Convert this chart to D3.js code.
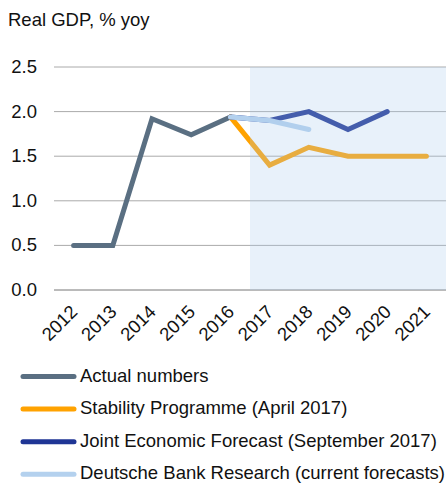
<!DOCTYPE html>
<html>
<head>
<meta charset="utf-8">
<script src="https://cdn.jsdelivr.net/npm/d3@7"></script>
<style>
  html, body { margin: 0; padding: 0; background: #fff; }
  svg { display: block; font-family: "Liberation Sans", Arial, sans-serif; }
</style>
</head>
<body>
<svg id="chart" width="446" height="483"></svg>
<script>
// Real GDP growth, % year on year
const years = ["2012", "2013", "2014", "2015", "2016", "2017", "2018", "2019", "2020", "2021"];
const yTicks = [0, 0.5, 1.0, 1.5, 2.0, 2.5];

const actual      = [["2012", 0.5], ["2013", 0.5], ["2014", 1.92], ["2015", 1.74], ["2016", 1.94]];
const stability   = [["2016", 1.94], ["2017", 1.4], ["2018", 1.6], ["2019", 1.5], ["2020", 1.5], ["2021", 1.5]];
const jointFcst   = [["2016", 1.94], ["2017", 1.9], ["2018", 2.0], ["2019", 1.8], ["2020", 2.0]];
const dbResearch  = [["2016", 1.94], ["2017", 1.9], ["2018", 1.8]];

const seriesNames = [
  "Actual numbers",
  "Stability Programme (April 2017)",
  "Joint Economic Forecast (September 2017)",
  "Deutsche Bank Research (current forecasts)"
];
const seriesColors = ["#5a6f82", "#ffa200", "#1f3595", "#b4d1ee"];
const seriesData = [actual, stability, jointFcst, dbResearch];

const svg = d3.select("#chart");
const plot = { left: 54, right: 446, top: 67, bottom: 290 };
const fontSize = 18.5;

const x = d3.scalePoint().domain(years).range([plot.left, plot.right]).padding(0.5);
const y = d3.scaleLinear().domain([0, 2.5]).range([plot.bottom, plot.top]);

// title
svg.append("text")
  .attr("x", 8).attr("y", 26)
  .attr("font-size", fontSize).attr("fill", "#111")
  .text("Real GDP, % yoy");

// gridlines
svg.append("g").selectAll("line").data(yTicks).join("line")
  .attr("x1", plot.left).attr("x2", plot.right)
  .attr("y1", d => y(d)).attr("y2", d => y(d))
  .attr("stroke", d => d === 0 ? "#777" : "#aaa")
  .attr("stroke-width", 1);

// y tick labels
svg.append("g").selectAll("text").data(yTicks).join("text")
  .attr("x", 37).attr("y", d => y(d) + 6)
  .attr("text-anchor", "end")
  .attr("font-size", fontSize).attr("fill", "#111")
  .text(d3.format(".1f"));

// x tick labels, rotated
svg.append("g").selectAll("text").data(years).join("text")
  .attr("transform", d => `translate(${x(d) + 5},${plot.bottom + 23}) rotate(-45)`)
  .attr("text-anchor", "end")
  .attr("font-size", fontSize).attr("fill", "#111")
  .text(d => d);

// series lines
const line = d3.line().x(d => x(d[0])).y(d => y(d[1]));
svg.append("g").selectAll("path").data(seriesData).join("path")
  .attr("d", line)
  .attr("fill", "none")
  .attr("stroke", (d, i) => seriesColors[i])
  .attr("stroke-width", 5)
  .attr("stroke-linecap", "round")
  .attr("stroke-linejoin", "miter");

// forecast period shading, laid over the lines
const shadeStart = x("2016") + x.step() / 2;
svg.append("rect")
  .attr("x", shadeStart).attr("y", plot.top)
  .attr("width", plot.right - shadeStart).attr("height", plot.bottom - plot.top)
  .attr("fill", "#aacdeb").attr("fill-opacity", 0.27);

// legend
const legend = svg.append("g").selectAll("g").data(seriesNames).join("g")
  .attr("transform", (d, i) => `translate(0,${376.5 + i * 32.6})`);
legend.append("line")
  .attr("x1", 23).attr("x2", 74).attr("y1", 0).attr("y2", 0)
  .attr("stroke", (d, i) => seriesColors[i])
  .attr("stroke-width", 5)
  .attr("stroke-linecap", "round");
legend.append("text")
  .attr("x", 80).attr("y", 5)
  .attr("font-size", fontSize).attr("fill", "#111")
  .text(d => d);
</script>
</body>
</html>
